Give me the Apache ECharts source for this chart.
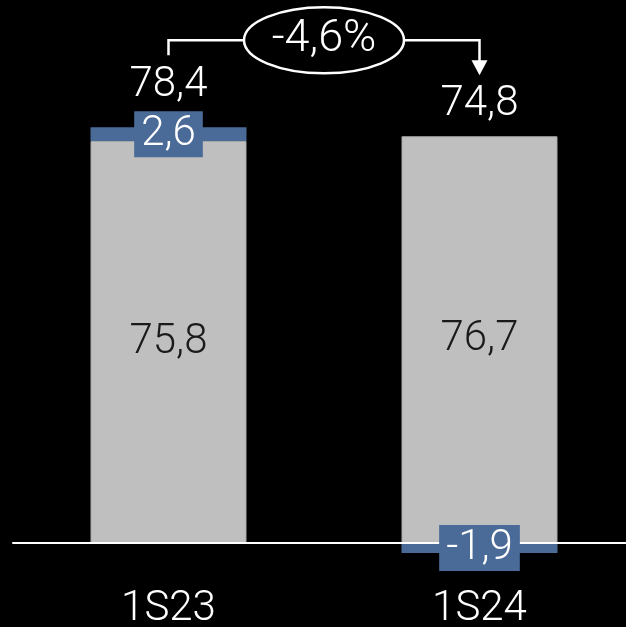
<!DOCTYPE html>
<html>
<head>
<meta charset="utf-8">
<script src="https://cdn.jsdelivr.net/npm/echarts@6/dist/echarts.min.js"></script>
<style>
  html, body { margin: 0; padding: 0; background: #000; }
  #chart { width: 626px; height: 627px; }
</style>
</head>
<body>
<div id="chart"></div>
<script>
// Half-year figures: base amount plus the change component
const categories = ['1S23', '1S24'];
const baseValues = [75.8, 76.7];
const deltaValues = [2.6, -1.9];
const totalValues = [78.4, 74.8];
const changeText = '-4,6%';

const FONT = "Roboto, 'DejaVu Sans', sans-serif";
const WEIGHT = 300;
const GREY = '#bfbfbf';
const BLUE = '#4a6a98';

const fmt = v => v.toFixed(1).replace('.', ',');

// Centre of each change segment, used to anchor its boxed label
const deltaMid = deltaValues.map((d, i) => d >= 0 ? baseValues[i] + d / 2 : d / 2);

const chart = echarts.init(document.getElementById('chart'), null, { renderer: 'canvas' });

const textStyle = { fontSize: 42, fontFamily: FONT, fontWeight: WEIGHT };

chart.setOption({
  backgroundColor: '#000',
  animation: false,
  grid: { left: 13, right: -9, top: 12.7, bottom: 57.5, outerBoundsMode: 'none', containLabel: false },
  xAxis: {
    type: 'category',
    data: categories,
    z: 3,
    axisLine: { onZero: true, lineStyle: { color: '#fff', width: 2 } },
    axisTick: { show: false },
    axisLabel: Object.assign({ color: '#fff', margin: 19, lineHeight: 42 }, textStyle)
  },
  yAxis: {
    type: 'value', min: -5, max: 100, show: false,
    splitLine: { show: false }
  },
  series: [
    {
      type: 'bar', stack: 'total', data: baseValues, barWidth: 156, z: 2,
      itemStyle: { color: GREY, borderColor: '#a8a8a8', borderWidth: 1 },
      label: Object.assign({
        show: true, position: 'inside', color: '#1a1a1a', formatter: p => fmt(p.value)
      }, textStyle)
    },
    {
      type: 'bar', stack: 'total', data: deltaValues, barWidth: 156, z: 2,
      itemStyle: { color: BLUE }
    },
    {
      type: 'scatter', symbolSize: 0, z: 5,
      itemStyle: { opacity: 1 },
      data: deltaMid.map((m, i) => [i, m]),
      label: Object.assign({
        show: true, position: 'inside', color: '#fff', opacity: 1,
        lineHeight: 46, padding: [0, 7], backgroundColor: BLUE,
        formatter: p => fmt(deltaValues[p.dataIndex])
      }, textStyle)
    },
    {
      type: 'scatter', symbolSize: 0, z: 5,
      itemStyle: { opacity: 1 },
      data: totalValues.map((t, i) => [i, t]),
      label: Object.assign({
        show: true, position: 'inside', offset: [0, -42], color: '#fff', opacity: 1,
        formatter: p => fmt(totalValues[p.dataIndex])
      }, textStyle)
    }
  ]
});

// Change bracket between the two totals
const p0 = chart.convertToPixel({ seriesIndex: 0 }, [0, totalValues[0]]);
const p1 = chart.convertToPixel({ seriesIndex: 0 }, [1, totalValues[1]]);
const startY = p0[1] - 72;
const lineY = startY - 15;
const tipY = p1[1] - 71;
const midX = (p0[0] + p1[0]) / 2;
const stroke = { stroke: '#fff', lineWidth: 2.5, fill: null };

chart.setOption({
  graphic: [
    { type: 'polyline', z: 10, shape: { points: [[p0[0], startY], [p0[0], lineY], [p1[0], lineY], [p1[0], tipY - 14]] }, style: stroke },
    { type: 'polygon', z: 10, shape: { points: [[p1[0] - 8, tipY - 15], [p1[0] + 8, tipY - 15], [p1[0], tipY]] }, style: { fill: '#fff' } },
    { type: 'ellipse', z: 11, shape: { cx: midX, cy: lineY, rx: 80, ry: 33 }, style: { fill: '#000', stroke: '#fff', lineWidth: 2.5 } },
    {
      type: 'text', z: 12, x: midX, y: lineY,
      style: Object.assign({ text: changeText, fill: '#fff', align: 'center', verticalAlign: 'middle' }, textStyle, { fontSize: 45 })
    }
  ]
});
</script>
</body>
</html>
